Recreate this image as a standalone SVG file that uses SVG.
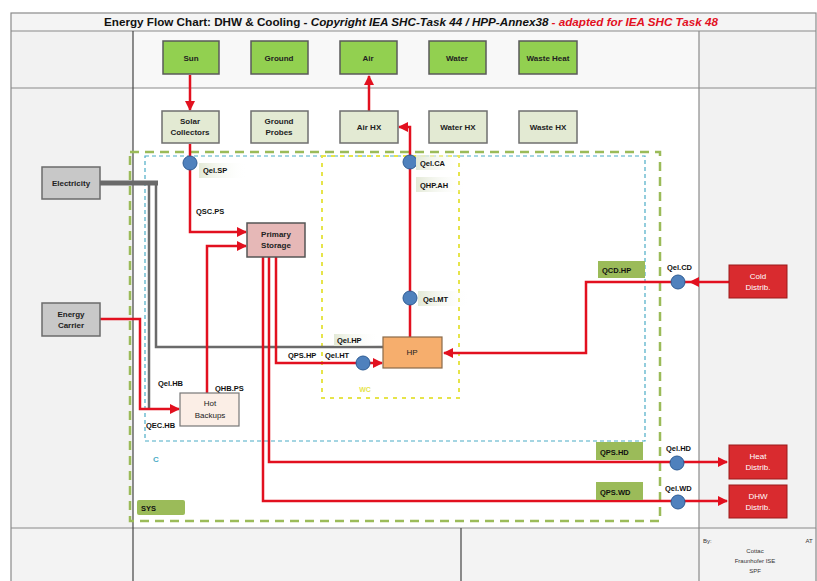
<svg xmlns="http://www.w3.org/2000/svg" width="817" height="581" viewBox="0 0 817 581">
<defs>
<marker id="ar" viewBox="0 0 10 10" refX="9" refY="5" markerWidth="4" markerHeight="4" orient="auto-start-reverse"><path d="M0,0 L10,5 L0,10 z" fill="#e2101f"/></marker>
<linearGradient id="fade" x1="0" y1="0" x2="1" y2="0"><stop offset="0" stop-color="#e3e9d6"/><stop offset="1" stop-color="#ffffff" stop-opacity="0"/></linearGradient>
<style>
.fr{fill:none;stroke:#8a8a8a;stroke-width:1.2}
.frd{fill:none;stroke:#444;stroke-width:1.2}
.src rect{fill:#92d050;stroke:#5a5a5a;stroke-width:1.5}
.hx rect{fill:#e3ead3;stroke:#6f6f6f;stroke-width:1.5}
.gry rect{fill:#c8c8c8;stroke:#6b6b6b;stroke-width:1.5}
.dst rect{fill:#d92b2f;stroke:#9a1a1a;stroke-width:1}
.t{font-family:"Liberation Sans",Arial,sans-serif;font-size:8px;font-weight:bold;text-anchor:middle;fill:#222}
.tw{font-family:"Liberation Sans",Arial,sans-serif;font-size:8px;text-anchor:middle;fill:#fff}
.l{font-family:"Liberation Sans",Arial,sans-serif;font-size:7.5px;font-weight:bold;fill:#111}
.r{fill:none;stroke:#e2101f;stroke-width:2.5}
.g{fill:none;stroke:#6a6a6a;stroke-width:2.5}
.c{fill:#4f81bd;stroke:#2e5c94;stroke-width:1}
.gb{fill:#9bbb59}
.fb{fill:url(#fade)}
</style>
</defs>
<rect width="817" height="581" fill="#fff"/>
<!-- frame -->
<g id="frame">
<rect x="11" y="31" width="122" height="497" fill="#f2f2f2"/>
<rect x="699" y="31" width="117" height="497" fill="#f2f2f2"/>
<rect x="133" y="31" width="566" height="57" fill="#f8f8f8"/>
<rect x="11" y="528" width="806" height="53" fill="#f3f3f3"/>
<rect x="11" y="13" width="805" height="18" fill="#f4f4f4"/>
<rect x="11" y="13" width="805" height="575" class="fr"/>
<line x1="11" y1="31" x2="816" y2="31" class="fr"/>
<line x1="11" y1="88" x2="816" y2="88" class="fr"/>
<line x1="11" y1="528" x2="816" y2="528" class="fr"/>
<line x1="133" y1="31" x2="133" y2="581" class="frd"/>
<line x1="699" y1="31" x2="699" y2="581" class="fr"/>
<line x1="461" y1="528" x2="461" y2="581" class="frd"/>
<text x="104" y="26" textLength="614" lengthAdjust="spacingAndGlyphs" style="font-family:'Liberation Sans',Arial,sans-serif;font-size:11.5px;font-weight:bold" fill="#111">Energy Flow Chart: DHW &amp; Cooling - <tspan font-style="italic">Copyright IEA SHC-Task 44 / HPP-Annex38</tspan><tspan font-style="italic" fill="#e2101f"> - adapted for IEA SHC Task 48</tspan></text>
<text x="703" y="543" style="font-family:'Liberation Sans',Arial,sans-serif;font-size:6px" fill="#333">By:</text>
<text x="809" y="543" style="font-family:'Liberation Sans',Arial,sans-serif;font-size:6px" fill="#333" text-anchor="middle">AT</text>
<text x="755" y="553" style="font-family:'Liberation Sans',Arial,sans-serif;font-size:6px" fill="#333" text-anchor="middle">Cottac</text>
<text x="755" y="563" style="font-family:'Liberation Sans',Arial,sans-serif;font-size:6px" fill="#333" text-anchor="middle">Fraunhofer ISE</text>
<text x="755" y="573" style="font-family:'Liberation Sans',Arial,sans-serif;font-size:6px" fill="#333" text-anchor="middle">SPF</text>
</g>
<!-- boundaries -->
<g id="boundaries">
<rect x="130" y="152" width="530" height="369" fill="none" stroke="#9bbb59" stroke-width="2.5" stroke-dasharray="9,6"/>
<rect x="145" y="156" width="500" height="285" fill="none" stroke="#4bacc6" stroke-width="1.2" stroke-dasharray="4,3"/>
<rect x="322" y="156" width="137" height="242" fill="none" stroke="#e6e44a" stroke-width="2" stroke-dasharray="4,5"/>
<text x="153" y="462" style="font-family:'Liberation Sans',Arial,sans-serif;font-size:8px;font-weight:bold" fill="#4bacc6">C</text>
<text x="365" y="392" style="font-family:'Liberation Sans',Arial,sans-serif;font-size:7px;font-weight:bold" fill="#e6e44a" text-anchor="middle">WC</text>
<rect x="137" y="500" width="48" height="15" rx="2" class="gb"/>
<text x="141" y="511" class="l">SYS</text>
</g>
<!-- connectors -->
<g id="connectors">
<path d="M100,183 H158" stroke="#6a6a6a" stroke-width="5" fill="none"/>
<path class="g" d="M156,183 V347 H383"/>
<path class="g" d="M149,183 V408"/>
<path class="r" d="M190,75 V110" marker-end="url(#ar)"/>
<path class="r" d="M369,111 V76" marker-end="url(#ar)"/>
<path class="r" d="M190,144 V232 H246" marker-end="url(#ar)"/>
<path class="r" d="M207,393 V246 H246" marker-end="url(#ar)"/>
<path class="r" d="M100,319 H140 V409 H179" marker-end="url(#ar)"/>
<path class="r" d="M276,257 V363 H382" marker-end="url(#ar)"/>
<path class="r" d="M269,257 V462 H727" marker-end="url(#ar)"/>
<path class="r" d="M263,257 V501 H727" marker-end="url(#ar)"/>
<path class="r" d="M729,282 H690" marker-end="url(#ar)"/>
<path class="r" d="M690,282 H586 V353 H444" marker-end="url(#ar)"/>
<path class="r" d="M410,337 V127 H399" marker-end="url(#ar)"/>
<circle class="c" cx="190" cy="163" r="7"/>
<circle class="c" cx="410" cy="162" r="7"/>
<circle class="c" cx="410" cy="298" r="7"/>
<circle class="c" cx="363" cy="363" r="7"/>
<circle class="c" cx="678" cy="282" r="7"/>
<circle class="c" cx="677" cy="463" r="7"/>
<circle class="c" cx="678" cy="502" r="7"/>
<rect x="199" y="163" width="48" height="15" class="fb"/>
<text x="203" y="173" class="l">Qel.SP</text>
<text x="196" y="214" class="l">QSC.PS</text>
<rect x="416" y="155" width="48" height="15" class="fb"/>
<text x="420" y="166" class="l">Qel.CA</text>
<rect x="416" y="177" width="50" height="15" class="fb"/>
<text x="420" y="188" class="l">QHP.AH</text>
<rect x="418" y="291" width="52" height="15" class="fb"/>
<text x="423" y="302" class="l">Qel.MT</text>
<rect x="334" y="334" width="45" height="12" class="fb"/>
<text x="337" y="343" class="l">Qel.HP</text>
<text x="288" y="358" class="l">QPS.HP</text>
<text x="325" y="358" class="l">Qel.HT</text>
<text x="158" y="386" class="l">Qel.HB</text>
<text x="215" y="391" class="l">QHB.PS</text>
<text x="146" y="428" class="l">QEC.HB</text>
<rect x="598" y="261" width="47" height="17" class="gb"/>
<text x="602" y="273" class="l">QCD.HP</text>
<text x="667" y="270" class="l">Qel.CD</text>
<rect x="596" y="442" width="47" height="18" class="gb"/>
<text x="600" y="455" class="l">QPS.HD</text>
<text x="666" y="451" class="l">Qel.HD</text>
<rect x="596" y="482" width="47" height="18" class="gb"/>
<text x="600" y="495" class="l">QPS.WD</text>
<text x="665" y="491" class="l">Qel.WD</text>
</g>
<!-- nodes -->
<g id="sun" class="src"><rect x="163" y="41" width="56" height="33"/><text x="191" y="61" class="t">Sun</text></g>
<g id="ground" class="src"><rect x="251" y="41" width="57" height="33"/><text x="279" y="61" class="t">Ground</text></g>
<g id="air" class="src"><rect x="340" y="41" width="57" height="33"/><text x="368" y="61" class="t">Air</text></g>
<g id="water" class="src"><rect x="429" y="41" width="57" height="33"/><text x="457" y="61" class="t">Water</text></g>
<g id="wasteheat" class="src"><rect x="519" y="41" width="58" height="33"/><text x="548" y="61" class="t">Waste Heat</text></g>
<g id="solar" class="hx"><rect x="162" y="111" width="57" height="32"/><text x="190" y="124" class="t">Solar</text><text x="190" y="135" class="t">Collectors</text></g>
<g id="probes" class="hx"><rect x="251" y="111" width="57" height="32"/><text x="279" y="124" class="t">Ground</text><text x="279" y="135" class="t">Probes</text></g>
<g id="airhx" class="hx"><rect x="340" y="111" width="58" height="32"/><text x="369" y="130" class="t">Air HX</text></g>
<g id="waterhx" class="hx"><rect x="429" y="111" width="58" height="32"/><text x="458" y="130" class="t">Water HX</text></g>
<g id="wastehx" class="hx"><rect x="519" y="111" width="58" height="32"/><text x="548" y="130" class="t">Waste HX</text></g>
<g id="electricity" class="gry"><rect x="42" y="167" width="58" height="32"/><text x="71" y="186" class="t">Electricity</text></g>
<g id="carrier" class="gry"><rect x="42" y="303" width="58" height="33"/><text x="71" y="317" class="t">Energy</text><text x="71" y="328" class="t">Carrier</text></g>
<g id="storage"><rect x="247" y="223" width="58" height="34" fill="#e6b8b7" stroke="#555" stroke-width="1.5"/><text x="276" y="237" class="t">Primary</text><text x="276" y="248" class="t">Storage</text></g>
<g id="backups"><rect x="180" y="393" width="59" height="33" fill="#fbeee6" stroke="#777" stroke-width="1.2"/><text x="210" y="406" class="t" style="font-weight:normal">Hot</text><text x="210" y="418" class="t" style="font-weight:normal">Backups</text></g>
<g id="hp"><rect x="383" y="337" width="59" height="31" fill="#f6ae6d" stroke="#8a6a4a" stroke-width="1.2"/><text x="412" y="355" class="t" style="font-weight:normal">HP</text></g>
<g id="cold" class="dst"><rect x="729" y="265" width="58" height="33"/><text x="758" y="279" class="tw">Cold</text><text x="758" y="290" class="tw">Distrib.</text></g>
<g id="heat" class="dst"><rect x="729" y="445" width="58" height="34"/><text x="758" y="459" class="tw">Heat</text><text x="758" y="470" class="tw">Distrib.</text></g>
<g id="dhw" class="dst"><rect x="729" y="485" width="58" height="33"/><text x="758" y="499" class="tw">DHW</text><text x="758" y="510" class="tw">Distrib.</text></g>
</svg>
